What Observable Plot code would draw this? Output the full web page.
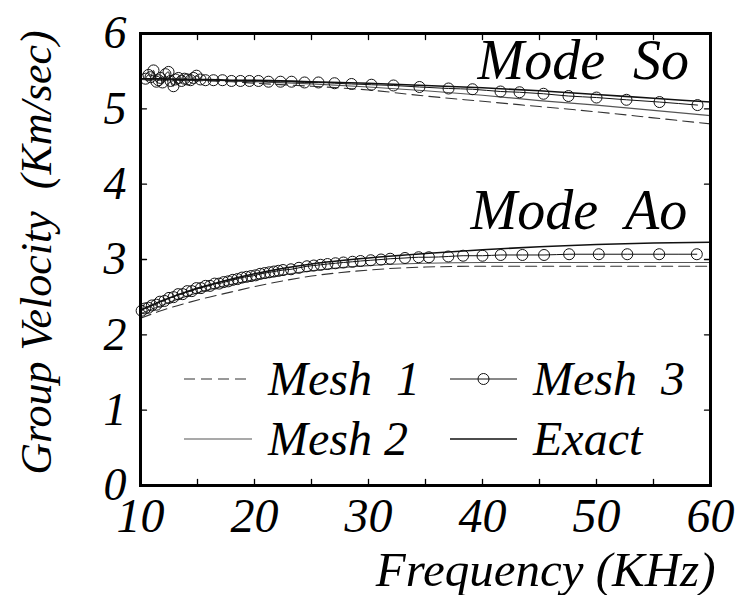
<!DOCTYPE html>
<html>
<head>
<meta charset="utf-8">
<script src="https://cdn.jsdelivr.net/npm/d3@7"></script>
<script src="https://cdn.jsdelivr.net/npm/@observablehq/plot@0.6"></script>
<style>
  body { margin: 0; background: #fff; }
  svg text {
    white-space: pre;
    font-family: "Liberation Serif", "DejaVu Serif", serif !important;
    font-style: italic !important;
  }
</style>
</head>
<body>
<div id="chart"></div>
<script>
// Frequency grid (KHz) for the continuous curves
const freqGrid = [10, 12, 14, 16, 18, 20, 25, 30, 35, 40, 45, 50, 55, 60];

// Mode So group velocity (Km/sec)
const exactSo = [5.40, 5.40, 5.39, 5.39, 5.38, 5.38, 5.36, 5.34, 5.31, 5.28, 5.24, 5.19, 5.14, 5.09];
const mesh2So = [5.39, 5.39, 5.38, 5.38, 5.37, 5.36, 5.33, 5.29, 5.24, 5.18, 5.11, 5.05, 4.98, 4.91];
const mesh1So = [5.39, 5.38, 5.38, 5.37, 5.36, 5.34, 5.30, 5.25, 5.17, 5.10, 5.03, 4.96, 4.88, 4.80];

// Mode Ao group velocity (Km/sec)
const exactAo = [2.33, 2.46, 2.57, 2.66, 2.74, 2.81, 2.94, 3.02, 3.08, 3.13, 3.17, 3.20, 3.22, 3.23];
const mesh2Ao = [2.28, 2.40, 2.51, 2.60, 2.67, 2.73, 2.85, 2.92, 2.95, 2.96, 2.96, 2.96, 2.96, 2.96];
const mesh1Ao = [2.22, 2.33, 2.42, 2.50, 2.57, 2.64, 2.78, 2.86, 2.90, 2.91, 2.91, 2.91, 2.91, 2.91];

// Mesh 3 sampled points, mode So
const mesh3SoFreq = [10.44, 10.70, 10.88, 11.14, 11.40, 11.58, 11.75, 11.93, 12.19, 12.46, 12.63, 12.89, 13.07, 13.33,
  13.60, 13.86, 14.12, 14.39, 14.65, 14.91, 15.26, 15.70, 16.40, 17.19, 17.98, 18.77, 19.56, 20.35, 21.23, 22.28,
  23.25, 24.39, 25.61, 27.02, 28.51, 30.26, 32.19, 34.47, 37.02, 39.12, 41.58, 43.25, 45.35, 47.54, 50.00, 52.63,
  55.53, 58.86];
const mesh3SoVel = [5.40, 5.45, 5.42, 5.51, 5.36, 5.38, 5.41, 5.35, 5.46, 5.49, 5.37, 5.30, 5.39, 5.41,
  5.37, 5.40, 5.39, 5.38, 5.41, 5.44, 5.39, 5.38, 5.38, 5.38, 5.37, 5.37, 5.37, 5.37, 5.36, 5.36,
  5.36, 5.35, 5.35, 5.34, 5.33, 5.32, 5.31, 5.29, 5.27, 5.26, 5.23, 5.22, 5.20, 5.17, 5.15, 5.12,
  5.09, 5.05];

// Mesh 3 sampled points, mode Ao
const mesh3AoFreq = [10.1, 10.4, 10.7, 11.0, 11.4, 11.7, 12.1, 12.5, 12.9, 13.3, 13.7, 14.1, 14.5, 14.9, 15.3,
  15.7, 16.1, 16.5, 16.9, 17.3, 17.7, 18.1, 18.5, 18.9, 19.3, 19.7, 20.1, 20.5, 20.9, 21.3, 21.7, 22.1,
  22.5, 23.2, 23.9, 24.6, 25.2, 25.8, 26.4, 27.1, 27.8, 28.6, 29.3, 30.2, 31.1, 31.9, 33.2, 34.4, 35.3,
  37.0, 38.3, 40.0, 41.6, 43.5, 45.4, 47.6, 50.2, 52.7, 55.5, 58.8];
const mesh3AoVel = [2.32, 2.35, 2.36, 2.39, 2.40, 2.44, 2.45, 2.49, 2.50, 2.54, 2.54, 2.58, 2.58, 2.62, 2.62,
  2.65, 2.65, 2.68, 2.68, 2.70, 2.71, 2.73, 2.74, 2.76, 2.77, 2.78, 2.79, 2.81, 2.82, 2.83, 2.84, 2.85,
  2.86, 2.87, 2.89, 2.91, 2.92, 2.93, 2.94, 2.95, 2.96, 2.97, 2.98, 2.99, 3.00, 3.01, 3.02, 3.03, 3.03,
  3.04, 3.05, 3.05, 3.06, 3.06, 3.06, 3.07, 3.07, 3.07, 3.07, 3.07];

// Axis ticks
const xTickLabels = [10, 20, 30, 40, 50, 60];
const xTickMarks = [15, 20, 25, 30, 35, 40, 45, 50, 55];
const yTickLabels = [0, 1, 2, 3, 4, 5, 6];
const yTickMarks = [1, 2, 3, 4, 5];

// Legend entries and mode annotations
const legendLabels = ["Mesh  1", "Mesh 2", "Mesh  3", "Exact"];
const modeLabels = ["Mode  So", "Mode  Ao"];

const rows = (xs, ys, mode) => xs.map((f, i) => ({f, v: ys[i], mode}));

const mesh1 = [...rows(freqGrid, mesh1So, "So"), ...rows(freqGrid, mesh1Ao, "Ao")];
const mesh2 = [...rows(freqGrid, mesh2So, "So"), ...rows(freqGrid, mesh2Ao, "Ao")];
const exact = [...rows(freqGrid, exactSo, "So"), ...rows(freqGrid, exactAo, "Ao")];
const mesh3 = [...rows(mesh3SoFreq, mesh3SoVel, "So"), ...rows(mesh3AoFreq, mesh3AoVel, "Ao")];

const FONT = "Liberation Serif, DejaVu Serif, serif";

const styleMesh1 = {stroke: "#333", strokeWidth: 1.1, strokeDasharray: "11,6"};
const styleMesh2 = {stroke: "#555", strokeWidth: 1.2};
const styleMesh3 = {stroke: "#111", strokeWidth: 1};
const styleExact = {stroke: "#111", strokeWidth: 1.6};

// short straight tick pointing inward from the frame
const tickShape = {draw(ctx, l) { ctx.moveTo(0, 0); ctx.lineTo(0, -l); }};
const txt = size => ({fontSize: size, fontFamily: FONT, fontStyle: "italic"});

const svg = Plot.plot({
  width: 750,
  height: 595,
  marginLeft: 140,
  marginRight: 40,
  marginTop: 33,
  marginBottom: 110,
  x: {domain: [10, 60]},
  y: {domain: [0, 6]},
  style: {fontFamily: FONT, fontStyle: "italic", color: "#000", background: "#fff", overflow: "visible"},
  marks: [
    Plot.line(mesh1, {x: "f", y: "v", z: "mode", curve: "monotone-x", ...styleMesh1}),
    Plot.line(mesh2, {x: "f", y: "v", z: "mode", curve: "monotone-x", ...styleMesh2}),
    Plot.line(exact, {x: "f", y: "v", z: "mode", curve: "monotone-x", ...styleExact}),
    Plot.line(mesh3, {x: "f", y: "v", z: "mode", curve: "monotone-x", ...styleMesh3}),
    Plot.dot(mesh3, {x: "f", y: "v", r: 5.5, stroke: "#111", strokeWidth: 1, fill: "none"}),

    // inward ticks on all four sides
    Plot.vector(xTickMarks, {x: d => d, frameAnchor: "bottom", length: 6, anchor: "start", shape: tickShape, stroke: "#000", strokeWidth: 1.3}),
    Plot.vector(xTickMarks, {x: d => d, frameAnchor: "top", length: 6, rotate: 180, anchor: "start", shape: tickShape, stroke: "#000", strokeWidth: 1.3}),
    Plot.vector(yTickMarks, {y: d => d, frameAnchor: "left", length: 6, rotate: 90, anchor: "start", shape: tickShape, stroke: "#000", strokeWidth: 1.3}),
    Plot.vector(yTickMarks, {y: d => d, frameAnchor: "right", length: 6, rotate: -90, anchor: "start", shape: tickShape, stroke: "#000", strokeWidth: 1.3}),

    Plot.axisX(xTickLabels, {tickSize: 0, tickPadding: 12, tickFormat: d => String(d), label: null, ...txt(48)}),
    Plot.axisY(yTickLabels, {tickSize: 0, tickPadding: 14, tickFormat: d => String(d), label: null, ...txt(46)}),

    Plot.text(["Frequency (KHz)"], {frameAnchor: "bottom-right", dx: 5, dy: 100, textAnchor: "end", lineAnchor: "bottom", ...txt(49)}),
    Plot.text(["Group Velocity  (Km/sec)"], {frameAnchor: "left", rotate: -90, dx: -104, dy: -7, textAnchor: "middle", lineAnchor: "middle", ...txt(44)}),

    Plot.text([modeLabels[0]], {frameAnchor: "top-left", dx: 337, dy: 45, textAnchor: "start", lineAnchor: "bottom", ...txt(56)}),
    Plot.text([modeLabels[1]], {frameAnchor: "top-left", dx: 330, dy: 195, textAnchor: "start", lineAnchor: "bottom", ...txt(56)}),

    Plot.frame({stroke: "#000", strokeWidth: 3})
  ]
});

// Legend drawn inside the frame, two columns by two rows
const x0 = 140, y0 = 33;
const g = d3.select(svg).append("g")
  .attr("font-family", FONT).attr("font-style", "italic").attr("font-size", 48)
  .attr("text-anchor", "start");
const cols = [{lx1: 44, lx2: 112, tx: 128}, {lx1: 310, lx2: 377, tx: 393}];
const rowY = [346, 406];
const legendItems = [
  {label: legendLabels[0], col: 0, row: 0, style: styleMesh1, dot: false},
  {label: legendLabels[1], col: 0, row: 1, style: styleMesh2, dot: false},
  {label: legendLabels[2], col: 1, row: 0, style: styleMesh3, dot: true},
  {label: legendLabels[3], col: 1, row: 1, style: styleExact, dot: false}
];
for (const it of legendItems) {
  const c = cols[it.col], y = y0 + rowY[it.row];
  g.append("line")
    .attr("x1", x0 + c.lx1).attr("x2", x0 + c.lx2).attr("y1", y).attr("y2", y)
    .attr("stroke", it.style.stroke).attr("stroke-width", it.style.strokeWidth)
    .attr("stroke-dasharray", it.style.strokeDasharray || null);
  if (it.dot) {
    g.append("circle").attr("cx", x0 + (c.lx1 + c.lx2) / 2).attr("cy", y).attr("r", 5.5)
      .attr("fill", "none").attr("stroke", "#111").attr("stroke-width", 1);
  }
  g.append("text").attr("x", x0 + c.tx).attr("y", y + 16).attr("text-anchor", "start").text(it.label);
}

document.getElementById("chart").appendChild(svg);
</script>
</body>
</html>
